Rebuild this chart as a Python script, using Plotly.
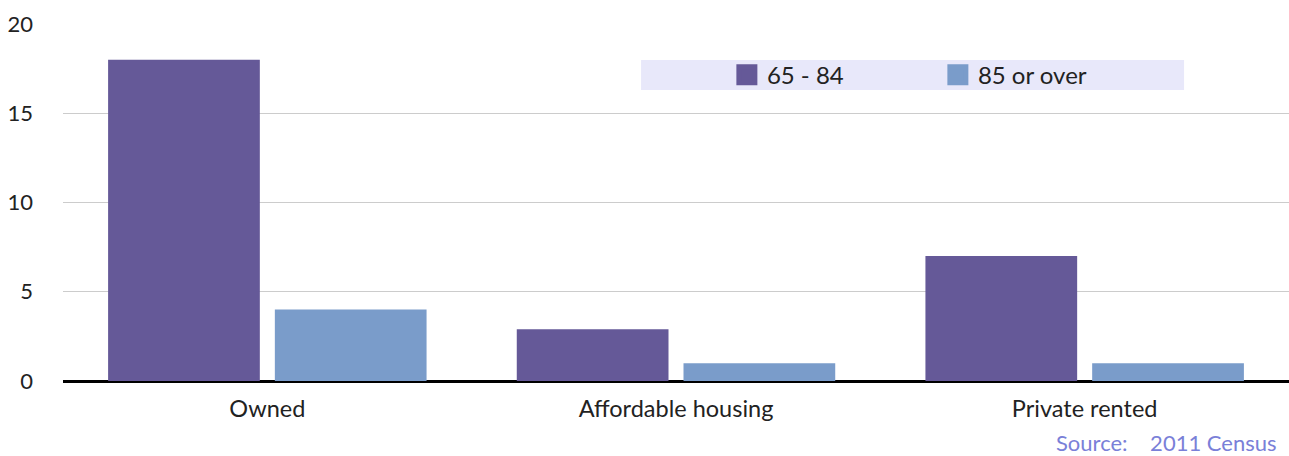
import plotly.graph_objects as go

categories = ["Owned", "Affordable housing", "Private rented"]
series_names = ["65 - 84", "85 or over"]
values_65_84 = [18, 2.9, 7]
values_85_over = [4, 1, 1]
y_ticks = [0, 5, 10, 15, 20]

colors = ["#655998", "#7a9cca"]
FONT = "Lato"
TXT = "#222222"

fig = go.Figure()
for name, vals, col in zip(series_names, [values_65_84, values_85_over], colors):
    fig.add_trace(go.Bar(x=categories, y=vals, name=name, marker=dict(color=col, line=dict(width=0)),
                         showlegend=False))
# legend entries (bigger square symbols)
for name, col in zip(series_names, colors):
    fig.add_trace(go.Scatter(x=[None], y=[None], mode="markers", name=name,
                             marker=dict(symbol="square", size=16, color=col, line=dict(color=col, width=5))))

fig.update_layout(
    width=1289, height=456,
    margin=dict(l=63, r=0, t=24, b=74.5),
    paper_bgcolor="white", plot_bgcolor="white",
    font=dict(family=FONT, size=22, color=TXT),
    barmode="group", bargap=0.184, bargroupgap=0.09,
    showlegend=True,
    legend=dict(orientation="h", x=0.5415, xanchor="left", y=0.857, yanchor="middle",
                bgcolor="rgba(0,0,0,0)", font=dict(family=FONT, size=24, color=TXT),
                entrywidth=166, itemsizing="trace"),
    shapes=[dict(type="rect", xref="paper", yref="paper", x0=0.4715, x1=0.9144, y0=0.8154, y1=0.8993,
                 fillcolor="#e8e8fa", line=dict(width=0), layer="below")],
    annotations=[dict(text="Source:\u00a0\u00a0\u00a0\u00a02011 Census", xref="paper", yref="paper",
                      x=1, xanchor="right", xshift=-11, y=-0.172, yanchor="middle", showarrow=False,
                      font=dict(family=FONT, size=22, color="#7a80d8"))],
)
fig.update_xaxes(showgrid=False, showline=False, ticks="", ticklabelstandoff=11,
                 tickfont=dict(size=23.5, color=TXT))
fig.update_yaxes(range=[0, 20], tickvals=y_ticks, showgrid=True, gridcolor="#cccccc", gridwidth=1,
                 zeroline=True, zerolinecolor="#000000", zerolinewidth=2.5, ticks="",
                 ticklabelstandoff=29, tickfont=dict(size=22, color=TXT))

fig.write_html("out.html", config={"displayModeBar": False},
               post_script="document.body.style.margin='0';")
